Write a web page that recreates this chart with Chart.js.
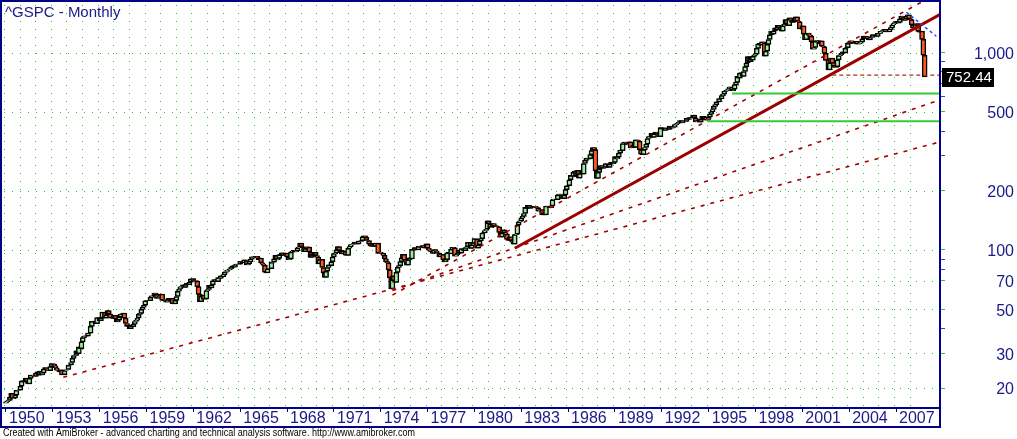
<!DOCTYPE html>
<html>
<head>
<meta charset="utf-8">
<title>^GSPC - Monthly</title>
<script src="https://cdn.jsdelivr.net/npm/chart.js@4.4.1/dist/chart.umd.min.js"></script>
<style>
html, body { margin: 0; padding: 0; background: #fff; }
</style>
</head>
<body>
<canvas id="chart" width="1017" height="439"></canvas>
<script>
var title = "^GSPC - Monthly"
var footer = "Created with AmiBroker - advanced charting and technical analysis software. http://www.amibroker.com"
var firstYear = 1950
var lastYear = 2008
var firstOpen = 16.76   //close of Dec 1949

//monthly closes Jan 1950 .. Nov 2008, one row per year
var closes = [
  17.05, 17.22, 17.29, 17.96, 18.78, 17.69, 17.84, 18.42, 19.45, 19.53, 19.51, 20.41,
  21.66, 21.80, 21.40, 22.43, 21.52, 20.96, 22.40, 23.28, 23.26, 22.94, 22.88, 23.77,
  24.14, 23.26, 24.37, 23.32, 23.86, 24.96, 25.40, 25.03, 24.54, 24.52, 25.66, 26.57,
  26.38, 25.90, 25.29, 24.62, 24.54, 24.14, 24.75, 23.32, 23.35, 24.54, 24.76, 24.81,
  26.08, 26.15, 26.94, 28.26, 29.19, 29.21, 30.88, 29.83, 32.31, 31.68, 34.24, 35.98,
  36.63, 36.76, 36.58, 37.96, 37.91, 41.03, 43.52, 43.18, 43.67, 42.34, 45.51, 45.48,
  43.82, 45.34, 48.48, 48.38, 45.20, 46.97, 49.39, 47.51, 45.35, 45.58, 45.08, 46.67,
  44.72, 43.26, 44.11, 45.74, 47.43, 47.37, 47.91, 45.22, 42.42, 41.06, 41.72, 39.99,
  41.70, 40.84, 42.10, 43.44, 44.09, 45.24, 47.19, 47.75, 50.06, 51.33, 52.48, 55.21,
  55.42, 55.41, 55.44, 57.59, 58.68, 58.47, 60.51, 59.60, 56.88, 57.52, 58.28, 59.89,
  55.61, 56.12, 55.34, 54.37, 55.83, 56.92, 55.51, 56.96, 53.52, 53.39, 55.54, 58.11,
  61.78, 63.44, 65.06, 65.31, 66.56, 64.64, 66.76, 68.07, 66.73, 68.62, 71.32, 71.55,
  68.84, 69.96, 69.55, 65.24, 59.63, 54.75, 58.23, 59.12, 56.27, 56.52, 62.26, 63.10,
  66.20, 64.29, 66.57, 69.80, 70.80, 69.37, 69.13, 72.50, 71.70, 74.01, 73.23, 75.02,
  77.04, 77.80, 78.98, 79.46, 80.37, 81.69, 83.18, 81.83, 84.18, 84.86, 84.42, 84.75,
  87.56, 87.43, 86.16, 89.11, 88.42, 84.12, 85.25, 87.17, 89.96, 92.42, 91.61, 92.43,
  92.88, 91.22, 89.23, 91.06, 86.13, 84.74, 83.60, 77.10, 76.56, 80.20, 80.45, 80.33,
  86.61, 86.78, 90.20, 94.01, 89.08, 90.64, 94.75, 93.64, 96.71, 93.90, 94.00, 96.47,
  92.24, 89.36, 90.20, 97.59, 98.68, 99.58, 97.74, 98.86, 102.67, 103.41, 108.37, 103.86,
  103.01, 98.13, 101.51, 103.69, 103.46, 97.71, 91.83, 95.51, 93.12, 97.24, 93.81, 92.06,
  85.02, 89.50, 89.63, 81.52, 76.55, 72.72, 78.05, 81.52, 84.21, 83.25, 87.20, 92.15,
  95.88, 96.75, 100.31, 103.95, 99.63, 99.70, 95.58, 99.03, 98.34, 94.23, 93.99, 102.09,
  103.94, 106.57, 107.20, 107.67, 109.53, 107.14, 107.39, 111.09, 110.55, 111.58, 116.67, 118.05,
  116.03, 111.68, 111.52, 106.97, 104.95, 104.26, 108.22, 104.25, 108.43, 108.29, 95.96, 97.55,
  96.57, 96.22, 93.98, 90.31, 87.28, 86.00, 79.31, 72.15, 63.54, 73.90, 69.97, 68.56,
  76.98, 81.59, 83.36, 87.30, 91.15, 95.19, 88.75, 86.88, 83.87, 89.04, 91.24, 90.19,
  100.86, 99.71, 102.77, 101.64, 100.18, 104.28, 103.44, 102.91, 105.24, 102.90, 102.10, 107.46,
  102.03, 99.82, 98.42, 98.44, 96.12, 100.48, 98.85, 96.77, 96.53, 92.34, 94.83, 95.10,
  89.25, 87.04, 89.21, 96.83, 97.24, 95.53, 100.68, 103.29, 102.54, 93.15, 94.70, 96.11,
  99.93, 96.28, 101.59, 101.76, 99.08, 102.91, 103.81, 109.32, 109.32, 101.82, 106.16, 107.94,
  114.16, 113.66, 102.09, 106.29, 111.24, 114.24, 121.67, 122.38, 125.46, 127.47, 140.52, 135.76,
  129.55, 131.27, 136.00, 132.81, 132.59, 131.21, 130.92, 122.79, 116.18, 121.89, 126.35, 122.55,
  120.40, 113.11, 111.96, 116.44, 111.88, 109.61, 107.09, 119.51, 120.42, 133.71, 138.54, 140.64,
  145.30, 148.06, 152.96, 164.42, 162.39, 168.11, 162.56, 164.40, 166.07, 163.55, 166.40, 164.93,
  163.41, 157.06, 159.18, 160.05, 150.55, 153.18, 150.66, 166.68, 166.10, 166.09, 163.58, 167.24,
  179.63, 181.18, 180.66, 179.83, 189.55, 191.85, 190.92, 188.63, 182.08, 189.82, 202.17, 211.28,
  211.78, 226.92, 238.90, 235.52, 247.35, 250.84, 236.12, 252.93, 231.32, 243.98, 249.22, 242.17,
  274.08, 284.20, 291.70, 288.36, 290.10, 304.00, 318.66, 329.80, 321.83, 251.79, 230.30, 247.08,
  257.07, 267.82, 258.89, 261.33, 262.16, 273.50, 272.02, 261.52, 271.91, 278.97, 273.70, 277.72,
  297.47, 288.86, 294.87, 309.64, 320.52, 317.98, 346.08, 351.45, 349.15, 340.36, 345.99, 353.40,
  329.08, 331.89, 339.94, 330.80, 361.23, 358.02, 356.15, 322.56, 306.05, 304.00, 322.22, 330.22,
  343.93, 367.07, 375.22, 375.35, 389.83, 371.16, 387.81, 395.43, 387.86, 392.46, 375.22, 417.09,
  408.79, 412.70, 403.69, 414.95, 415.35, 408.14, 424.21, 414.03, 417.80, 418.68, 431.35, 435.71,
  438.78, 443.38, 451.67, 440.19, 450.19, 450.53, 448.13, 463.56, 458.93, 467.83, 461.79, 466.45,
  481.61, 467.14, 445.77, 450.91, 456.50, 444.27, 458.26, 475.49, 462.69, 472.35, 453.69, 459.27,
  470.42, 487.39, 500.71, 514.71, 533.40, 544.75, 562.06, 561.88, 584.41, 581.50, 605.37, 615.93,
  636.02, 640.43, 645.50, 654.17, 669.12, 670.63, 639.95, 651.99, 687.31, 705.27, 757.02, 740.74,
  786.16, 790.82, 757.12, 801.34, 848.28, 885.14, 954.29, 899.47, 947.28, 914.62, 955.40, 970.43,
  980.28, 1049.34, 1101.75, 1111.75, 1090.82, 1133.84, 1120.67, 957.28, 1017.01, 1098.67, 1163.63, 1229.23,
  1279.64, 1238.33, 1286.37, 1335.18, 1301.84, 1372.71, 1328.72, 1320.41, 1282.71, 1362.93, 1388.91, 1469.25,
  1394.46, 1366.42, 1498.58, 1452.43, 1420.60, 1454.60, 1430.83, 1517.68, 1436.51, 1429.40, 1314.95, 1320.28,
  1366.01, 1239.94, 1160.33, 1249.46, 1255.82, 1224.42, 1211.23, 1133.58, 1040.94, 1059.78, 1139.45, 1148.08,
  1130.20, 1106.73, 1147.39, 1076.92, 1067.14, 989.82, 911.62, 916.07, 815.28, 885.76, 936.31, 879.82,
  855.70, 841.15, 848.18, 916.92, 963.59, 974.50, 990.31, 1008.01, 995.97, 1050.71, 1058.20, 1111.92,
  1131.13, 1144.94, 1126.21, 1107.30, 1120.68, 1140.84, 1101.72, 1104.24, 1114.58, 1130.20, 1173.82, 1211.92,
  1181.27, 1203.60, 1180.59, 1156.85, 1191.50, 1191.33, 1234.18, 1220.33, 1228.81, 1207.01, 1249.48, 1248.29,
  1280.08, 1280.66, 1294.83, 1310.61, 1270.09, 1270.20, 1276.66, 1303.82, 1335.85, 1377.94, 1400.63, 1418.30,
  1438.24, 1406.82, 1420.86, 1482.37, 1530.62, 1503.35, 1455.27, 1473.99, 1526.75, 1549.38, 1481.14, 1468.36,
  1378.55, 1330.63, 1322.70, 1385.59, 1400.38, 1280.00, 1267.38, 1282.83, 1166.36, 968.75, 752.44
]

//axis labels
var yearLabels = [1950, 1953, 1956, 1959, 1962, 1965, 1968, 1971, 1974, 1977, 1980, 1983, 1986, 1989, 1992, 1995, 1998, 2001, 2004, 2007]
var priceLabels = [20, 30, 50, 70, 100, 200, 500, 1000]
var priceMinor = [40, 80, 90, 300, 400, 600, 700, 800, 900]

//drawn studies: [month index from Jan 1950, price, month index, price]
var mainTrend = [391, 102, 718, 1559]
var dashedTrends = [
  [44, 22.65, 718, 353],
  [297, 62.3, 718, 577],
  [297, 59.1, 707, 1853]
]
var levelLine = [635, 768.6, 718, 768.6]
var topLine = [692, 1599, 715, 1209]
var greenLevels = [
  [558, 620, 718, 620],
  [539, 448, 718, 448]
]

window.onload = function () {
  var navy = '#1a1a8a'
  var gridGreen = '#22cc22'
  var font = '"Liberation Sans", Arial, sans-serif'

  //candle bodies, open = previous close
  var candleData = []
  var candleFill = []
  for (let i = 0; i < closes.length; i++) {
    let o = i ? closes[i - 1] : firstOpen
    candleData.push({ x: i, y: [o, closes[i]] })
    candleFill.push(closes[i] >= o ? '#9cf09c' : '#ff5a1e')
  }

  function seg(s) {
    return [{ x: s[0], y: s[1] }, { x: s[2], y: s[3] }]
  }

  function lineSet(s, color, width, dash) {
    return {
      type: 'line',
      data: seg(s),
      borderColor: color,
      borderWidth: width,
      borderDash: dash,
      pointRadius: 0,
      clip: 0,
      order: 1
    }
  }

  var datasets = [{
    type: 'bar',
    data: candleData,
    backgroundColor: candleFill,
    borderColor: '#000',
    borderWidth: 1.5,
    borderSkipped: false,
    barThickness: 5,
    grouped: false,
    order: 10
  }]
  greenLevels.forEach(s => datasets.push(lineSet(s, '#33cc33', 2, [])))
  dashedTrends.forEach(s => datasets.push(lineSet(s, '#a00000', 1.6, [4, 6])))
  datasets.push(lineSet(levelLine, '#a8321e', 1.2, [4, 3]))
  datasets.push(lineSet(topLine, '#2040ff', 1.4, [3, 3]))
  datasets.push(lineSet(mainTrend, '#9c0000', 3, []))

  //dotted grid, frame, title, last value
  var amiPlugin = {
    id: 'ami',
    beforeDatasetsDraw(chart) {
      const { ctx, chartArea: a, scales: { x, y } } = chart
      ctx.save()
      ctx.fillStyle = gridGreen
      for (let yr = firstYear; yr <= lastYear; yr++) {
        let px = Math.round(x.getPixelForValue((yr - firstYear) * 12)) - 2
        for (let py = a.top + 3; py < a.bottom; py += 8) ctx.fillRect(px, py, 1, 1)
      }
      priceLabels.forEach(v => {
        let py = Math.round(y.getPixelForValue(v))
        for (let px = a.left + 2; px < a.right; px += 8) ctx.fillRect(px, py, 1, 1)
      })
      ctx.restore()
    },
    afterDraw(chart) {
      const { ctx, chartArea: a, scales: { x, y } } = chart
      ctx.save()
      ctx.fillStyle = '#000088'
      ctx.fillRect(0, 0, a.right + 1, 2)
      ctx.fillRect(0, 0, 2, x.bottom)
      ctx.fillRect(a.right - 1, 0, 2, x.bottom)
      ctx.fillRect(0, a.bottom, a.right + 1, 2)
      ctx.fillRect(0, x.bottom - 1, a.right + 1, 2)

      ctx.font = '15px ' + font
      ctx.fillStyle = navy
      ctx.textBaseline = 'alphabetic'
      ctx.fillText(title, 5, 17)

      let last = closes[closes.length - 1]
      let py = Math.round(y.getPixelForValue(last))
      ctx.fillStyle = '#000'
      ctx.fillRect(a.right + 2, py - 9, 52, 19)
      ctx.fillStyle = '#fff'
      ctx.textBaseline = 'middle'
      ctx.fillText(last.toFixed(2), a.right + 6, py + 1)

      ctx.font = '10px ' + font
      ctx.fillStyle = '#000'
      ctx.textBaseline = 'alphabetic'
      ctx.fillText(footer, 3, 436, 412)
      ctx.restore()
    }
  }

  var ctx = document.getElementById('chart').getContext('2d')
  var chart = new Chart(ctx, {
    type: 'bar',
    data: { datasets: datasets },
    plugins: [amiPlugin],
    options: {
      responsive: false,
      animation: false,
      events: [],
      layout: { padding: { left: 2, top: 2, right: 3, bottom: 12 } },
      plugins: { legend: { display: false }, tooltip: { enabled: false } },
      scales: {
        x: {
          type: 'linear',
          position: 'bottom',
          min: -3.07,
          max: 717.8,
          bounds: 'data',
          offset: false,
          afterBuildTicks: s => { s.ticks = yearLabels.map(v => ({ value: (v - firstYear) * 12 })) },
          afterFit: s => { s.height = 20; s.paddingLeft = 0; s.paddingRight = 0 },
          grid: { drawOnChartArea: false, drawTicks: true, tickLength: 5, tickColor: '#000088', offset: false },
          border: { display: false },
          ticks: {
            autoSkip: false,
            maxRotation: 0,
            align: 'start',
            labelOffset: 3,
            padding: -3,
            color: navy,
            font: { family: font, size: 16 },
            callback: v => String(firstYear + Math.round(v / 12))
          }
        },
        y: {
          type: 'logarithmic',
          position: 'right',
          min: 16.03,
          max: 1802,
          bounds: 'data',
          afterBuildTicks: s => {
            s.ticks = priceLabels.concat(priceMinor).sort((p, q) => p - q).map(v => ({ value: v }))
          },
          afterFit: s => { s.width = 74; s.paddingTop = 0; s.paddingBottom = 0 },
          grid: {
            drawOnChartArea: false,
            drawTicks: true,
            tickLength: 5,
            tickColor: c => priceLabels.includes(c.tick.value) ? gridGreen : '#3344cc'
          },
          border: { display: false },
          ticks: {
            autoSkip: false,
            crossAlign: 'far',
            padding: 29,
            labelOffset: 2,
            color: navy,
            font: { family: font, size: 16 },
            callback: v => priceLabels.includes(v) ? v.toLocaleString('en-US') : ''
          }
        }
      }
    }
  })
}
</script>
</body>
</html>
